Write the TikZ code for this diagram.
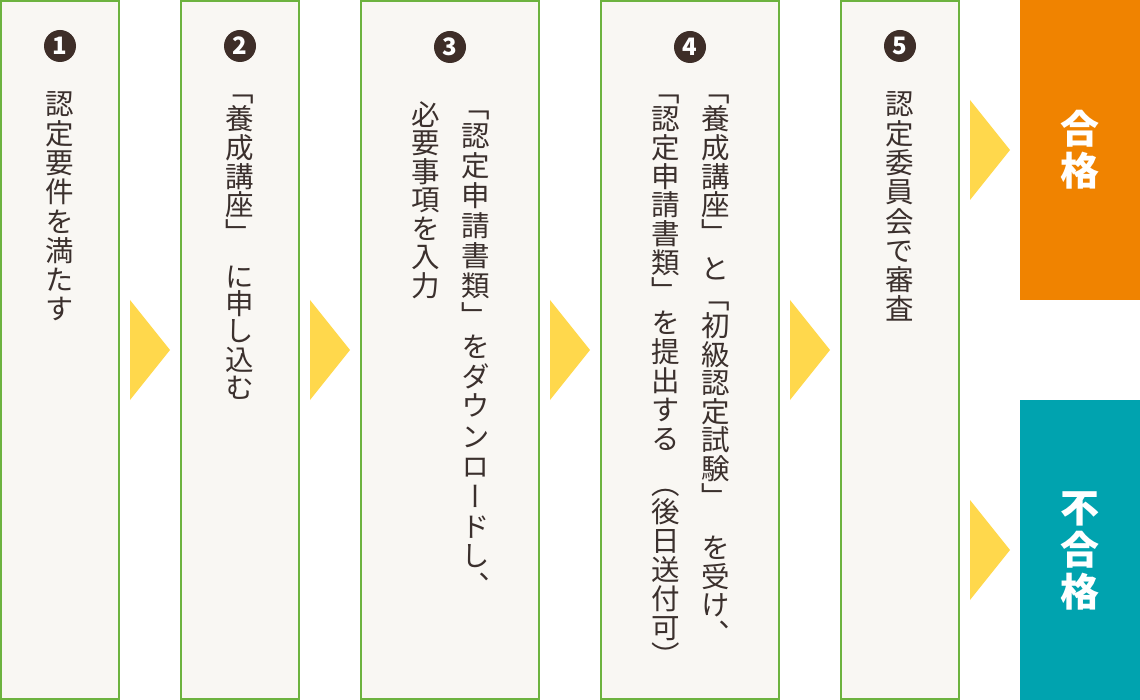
\documentclass[tikz,border=0pt]{standalone}
\usepackage{fontspec}
\usetikzlibrary{calc}
\newfontfamily\cjk{Noto Sans CJK JP}
\newfontfamily\cjkv[RawFeature=+vert]{Noto Sans CJK JP}
\definecolor{grn}{HTML}{6DB33F}
\definecolor{cream}{HTML}{F9F7F3}
\definecolor{ink}{HTML}{3B302D}
\definecolor{numc}{HTML}{3E2E28}
\definecolor{yel}{HTML}{FFD84C}
\definecolor{org}{HTML}{F08300}
\definecolor{teal}{HTML}{00A3AF}
\tikzset{
  stepbox/.style={draw=grn, fill=cream, line width=2pt, minimum height=698pt, inner sep=0pt},
  resbox/.style={minimum width=120pt, minimum height=300pt, inner sep=0pt, outer sep=0pt},
  ch/.style={inner sep=0pt, text height=25.08pt, text depth=3.42pt, font=\cjkv\fontsize{28.5}{28.5}\selectfont, text=ink, anchor=center},
  big/.style={inner sep=0pt, text height=34.3pt, text depth=4.7pt, font=\cjk\bfseries\fontsize{39}{39}\selectfont, text=white, anchor=center},
  num/.style={circle, fill=numc, minimum size=32pt, inner sep=0pt, text=white, font=\cjk\bfseries\fontsize{24}{24}\selectfont},
  tri/.style={fill=yel}
}
\begin{document}
\begin{tikzpicture}[x=1pt,y=-1pt]
\useasboundingbox (0,0) rectangle (1140,700);
% step boxes
\node[stepbox, minimum width=118pt] (s1) at (60,350) {};
\node[stepbox, minimum width=118pt] (s2) at (240,350) {};
\node[stepbox, minimum width=178pt] (s3) at (450,350) {};
\node[stepbox, minimum width=178pt] (s4) at (690,350) {};
\node[stepbox, minimum width=118pt] (s5) at (900,350) {};
% result boxes
\node[resbox, fill=org] (pass) at (1080,150) {};
\node[resbox, fill=teal] (fail) at (1080,550) {};
% arrows
\foreach \a/\b in {s1/s2, s2/s3, s3/s4, s4/s5}
  \fill[tri] ($(\a.east)+(10,-50)$) -- ($(\a.east)+(50,0)$) -- ($(\a.east)+(10,50)$) -- cycle;
\fill[tri] ($(pass.west)+(-50,-50)$) -- ($(pass.west)+(-10,0)$) -- ($(pass.west)+(-50,50)$) -- cycle;
\fill[tri] ($(fail.west)+(-50,-50)$) -- ($(fail.west)+(-10,0)$) -- ($(fail.west)+(-50,50)$) -- cycle;
% numbers
\node[num] (n1) at (60,46) {1};
\node[num] (n2) at (240,46) {2};
\node[num] (n3) at (450,47) {3};
\node[num] (n4) at (690,47) {4};
\node[num] (n5) at (900,46) {5};
% box 1
\foreach \c/\y [count=\i] in {認/104,定/133.3,要/162.6,件/191.9,を/221.2,満/250.5,た/279.8,す/309.1}
  \node[ch] (a\i) at (60,\y) {\c};
% box 2
\foreach \c/\y [count=\i] in {「/90.5,養/119,成/147.5,講/176.5,座/204.5,」/233,に/277,申/303.5,し/330.5,込/360,む/387.5}
  \node[ch] (b\i) at (240,\y) {\c};
% box 3 right
\foreach \c/\y [count=\i] in {「/106.5,認/136,定/166,申/196,請/226,書/256,類/286,」/316,を/347,ダ/377,ウ/406,ン/437,ロ/467,ー/497,ド/527,し/556,、/586}
  \node[ch] (c\i) at (476,\y) {\c};
% box 3 left
\foreach \c/\y [count=\i] in {必/114.5,要/143,事/171.5,項/200,を/228.5,入/257,力/285.5}
  \node[ch] (d\i) at (426,\y) {\c};
% box 4 right
\foreach \c/\y [count=\i] in {「/90.5,養/119,成/148,講/176.5,座/204.5,」/233,と/268.5,「/297.5,初/326,級/354.5,認/383,定/411.5,試/440,験/468.5,」/497,を/548,受/576.5,け/605,、/633.5}
  \node[ch] (e\i) at (716,\y) {\c};
% box 4 left
\foreach \c/\y [count=\i] in {「/90.5,認/119,定/148,申/176.5,請/205,書/233.5,類/262.5,」/291,を/323,提/352,出/381,す/410,る/439,（/483.5,後/512,日/541,送/570,付/599,可/627.5,）/656}
  \node[ch] (f\i) at (666,\y) {\c};
% box 5
\foreach \c/\y [count=\i] in {認/104,定/133.3,委/162.6,員/191.9,会/221.2,で/250.5,審/279.8,査/309.1}
  \node[ch] (g\i) at (900,\y) {\c};
% results
\node[big] (p1) at (1080,128.5) {合};
\node[big] (p2) at (1080,171) {格};
\node[big] (q1) at (1080,507.5) {不};
\node[big] (q2) at (1080,549.5) {合};
\node[big] (q3) at (1080,591.5) {格};
\end{tikzpicture}
\end{document}
